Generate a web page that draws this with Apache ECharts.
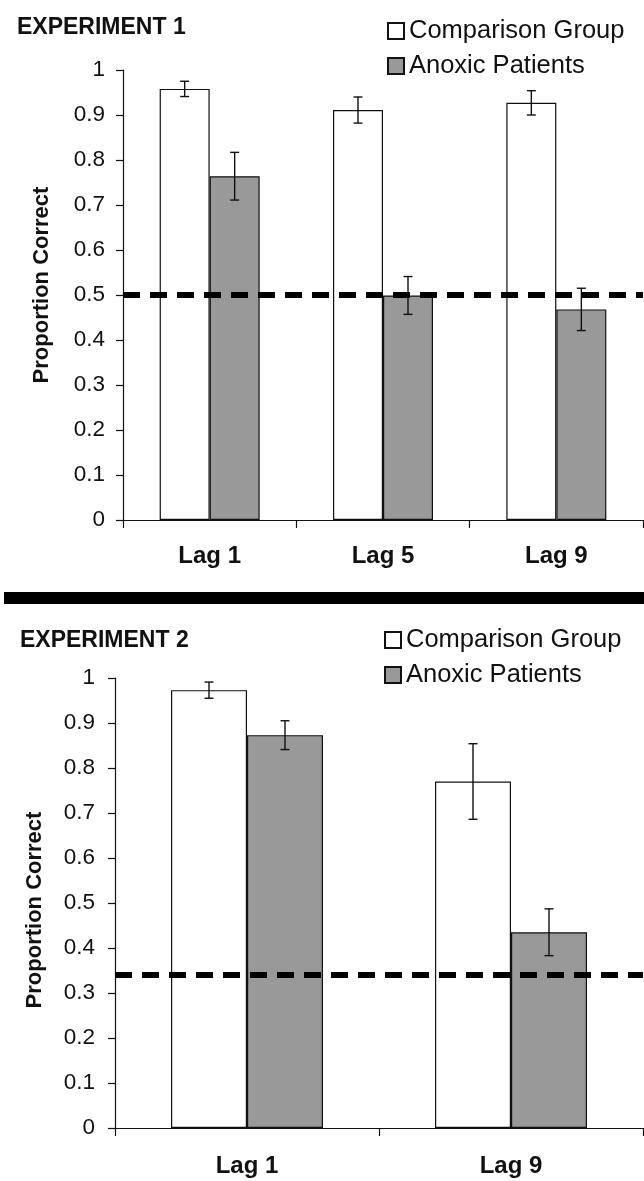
<!DOCTYPE html>
<html>
<head>
<meta charset="utf-8">
<script src="https://cdn.jsdelivr.net/npm/echarts@6/dist/echarts.min.js"></script>
<style>
html,body{margin:0;padding:0;background:#fff;}
#chart{width:644px;height:1181px;}
</style>
</head>
<body>
<div id="chart"></div>
<script>
// ---- Data ----
const seriesNames = ['Comparison Group', 'Anoxic Patients'];
const yTickValues = [0, 0.1, 0.2, 0.3, 0.4, 0.5, 0.6, 0.7, 0.8, 0.9, 1];

const exp1Title = 'EXPERIMENT 1';
const exp1Categories = ['Lag 1', 'Lag 5', 'Lag 9'];
const exp1Comparison = [0.958, 0.911, 0.927];
const exp1ComparisonErr = [0.017, 0.029, 0.027];
const exp1Anoxic = [0.764, 0.499, 0.468];
const exp1AnoxicErr = [0.053, 0.042, 0.047];
const exp1Chance = 0.5;

const exp2Title = 'EXPERIMENT 2';
const exp2Categories = ['Lag 1', 'Lag 9'];
const exp2Comparison = [0.973, 0.770];
const exp2ComparisonErr = [0.018, 0.084];
const exp2Anoxic = [0.873, 0.435];
const exp2AnoxicErr = [0.032, 0.052];
const exp2Chance = 0.343;

const yAxisTitle = 'Proportion Correct';

// ---- Style ----
const FONT = '"Liberation Sans", Arial, sans-serif';
const INK = '#111';
const GRAY = '#999999';

const chart = echarts.init(document.getElementById('chart'), null, {renderer: 'canvas'});

function errRenderer(sign, barW) {
  return function (params, api) {
    const ci = api.value(0), v = api.value(1), e = api.value(2);
    const c = api.coord([ci, v]);
    const t = api.coord([ci, v + e]);
    const b = api.coord([ci, v - e]);
    const x = c[0] + sign * barW / 2;
    const cap = 4.5;
    const st = {stroke: INK, lineWidth: 1.4};
    return {
      type: 'group',
      children: [
        {type: 'line', shape: {x1: x, y1: t[1], x2: x, y2: b[1]}, style: st},
        {type: 'line', shape: {x1: x - cap, y1: t[1], x2: x + cap, y2: t[1]}, style: st},
        {type: 'line', shape: {x1: x - cap, y1: b[1], x2: x + cap, y2: b[1]}, style: st}
      ]
    };
  };
}

function xAxisCfg(gridIndex, cats, margin) {
  return {
    type: 'category', gridIndex: gridIndex, data: cats,
    axisLine: {lineStyle: {color: INK, width: 1.2}},
    axisTick: {show: true, length: 8, lineStyle: {color: INK, width: 1.2}},
    axisLabel: {fontFamily: FONT, fontWeight: 'bold', fontSize: 24, color: INK, margin: margin},
    splitLine: {show: false}
  };
}
function yAxisCfg(gridIndex, labelMargin) {
  return {
    type: 'value', gridIndex: gridIndex, min: 0, max: 1, interval: 0.1,
    axisLine: {show: true, lineStyle: {color: INK, width: 1.2}},
    axisTick: {show: true, length: 7, lineStyle: {color: INK, width: 1.2}},
    axisLabel: {fontFamily: FONT, fontSize: 22.5, color: INK, margin: labelMargin,
      formatter: function (v) { return String(Math.round(v * 10) / 10); }},
    splitLine: {show: false}
  };
}
function barSeries(name, data, axisIdx, color, barW) {
  return {
    type: 'bar', name: name, data: data, xAxisIndex: axisIdx, yAxisIndex: axisIdx,
    barWidth: barW, barGap: '0%',
    itemStyle: {color: color, borderColor: INK, borderWidth: 1.2},
    z: 2
  };
}
function errSeries(vals, errs, axisIdx, sign, barW) {
  return {
    type: 'custom', name: 'err' + axisIdx + sign, xAxisIndex: axisIdx, yAxisIndex: axisIdx,
    renderItem: errRenderer(sign, barW),
    encode: {x: 0, y: 1},
    data: vals.map(function (v, i) { return [i, v, errs[i]]; }),
    z: 4, silent: true
  };
}
function chanceSeries(val, axisIdx) {
  return {
    type: 'line', name: 'chance' + axisIdx, xAxisIndex: axisIdx, yAxisIndex: axisIdx,
    data: [], z: 6, silent: true,
    markLine: {
      silent: true, symbol: ['none', 'none'], label: {show: false},
      lineStyle: {color: '#000', width: 6, type: [17, 10]},
      data: [{yAxis: val}]
    }
  };
}
function axisTitle(x, y) {
  return {
    type: 'text', x: x, y: y, rotation: Math.PI / 2, z: 10,
    style: {text: yAxisTitle, fontFamily: FONT, fontWeight: 'bold', fontSize: 22,
      fill: INK, textAlign: 'center', textVerticalAlign: 'middle'}
  };
}

const BW1 = 50, BW2 = 76;

const option = {
  animation: false,
  backgroundColor: '#fff',
  title: [
    {text: exp1Title, left: 12, top: 11, textStyle: {fontFamily: FONT, fontWeight: 'bold', fontSize: 23, color: INK}},
    {text: exp2Title, left: 15, top: 624, textStyle: {fontFamily: FONT, fontWeight: 'bold', fontSize: 23, color: INK}}
  ],
  legend: [
    {data: seriesNames, orient: 'vertical', left: 387, top: 18, itemWidth: 16, itemHeight: 16, itemGap: 9, padding: 0,
     icon: 'rect', textStyle: {fontFamily: FONT, fontSize: 25.5, color: INK, lineHeight: 25}},
    {data: seriesNames, orient: 'vertical', left: 384, top: 627, itemWidth: 16, itemHeight: 16, itemGap: 9, padding: 0,
     icon: 'rect', textStyle: {fontFamily: FONT, fontSize: 25.5, color: INK, lineHeight: 25}}
  ],
  grid: [
    {left: 123, top: 70, width: 520, height: 450},
    {left: 115, top: 678, width: 528, height: 450}
  ],
  xAxis: [xAxisCfg(0, exp1Categories, 24), xAxisCfg(1, exp2Categories, 26)],
  yAxis: [yAxisCfg(0, 18), yAxisCfg(1, 20)],
  graphic: [
    {type: 'rect', shape: {x: 4, y: 592, width: 640, height: 12}, style: {fill: '#000'}, z: 10},
    axisTitle(42, 285),
    axisTitle(35, 910)
  ],
  series: [
    barSeries(seriesNames[0], exp1Comparison, 0, '#ffffff', BW1),
    barSeries(seriesNames[1], exp1Anoxic, 0, GRAY, BW1),
    errSeries(exp1Comparison, exp1ComparisonErr, 0, -1, BW1),
    errSeries(exp1Anoxic, exp1AnoxicErr, 0, 1, BW1),
    chanceSeries(exp1Chance, 0),
    barSeries(seriesNames[0], exp2Comparison, 1, '#ffffff', BW2),
    barSeries(seriesNames[1], exp2Anoxic, 1, GRAY, BW2),
    errSeries(exp2Comparison, exp2ComparisonErr, 1, -1, BW2),
    errSeries(exp2Anoxic, exp2AnoxicErr, 1, 1, BW2),
    chanceSeries(exp2Chance, 1)
  ]
};
chart.setOption(option);
</script>
</body>
</html>
